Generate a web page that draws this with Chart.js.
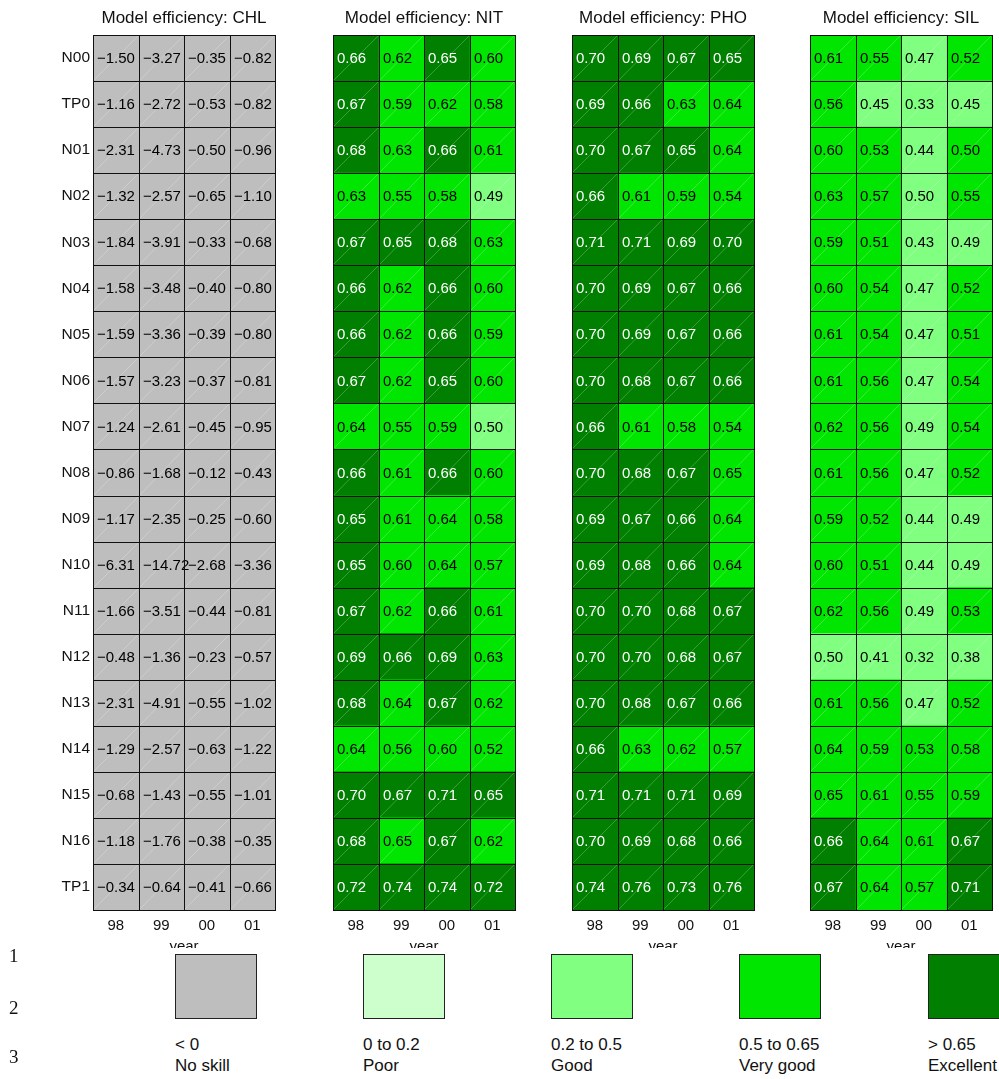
<!DOCTYPE html>
<html>
<head>
<meta charset="utf-8">
<script src="https://cdn.jsdelivr.net/npm/chart.js@4"></script>
<style>
  body { margin: 0; background: #fff; }
  #wrap { position: relative; width: 999px; height: 1079px; overflow: hidden; font-family: "Liberation Sans", Arial, sans-serif; }
  canvas { position: absolute; top: 0; }
  #legend { position: absolute; left: 0; top: 948px; width: 999px; height: 131px; background: #fff; }
  .sw { position: absolute; top: 6px; width: 80px; height: 63px; border: 1px solid #222; }
  .lab { position: absolute; top: 86px; font-size: 17px; line-height: 21px; color: #111; white-space: nowrap; }
  .num { position: absolute; left: 9px; font-family: "Liberation Serif", "DejaVu Serif", serif; font-size: 19px; color: #111; }
</style>
</head>
<body>
<div id="wrap">
  <canvas id="chl" width="302" height="960"></canvas>
  <canvas id="nit" width="302" height="960"></canvas>
  <canvas id="pho" width="302" height="960"></canvas>
  <canvas id="sil" width="302" height="960"></canvas>
  <div id="legend"></div>
</div>
<script>
// rows = stations, columns = years
var stations = ['N00', 'TP0', 'N01', 'N02', 'N03', 'N04', 'N05', 'N06', 'N07', 'N08',
                'N09', 'N10', 'N11', 'N12', 'N13', 'N14', 'N15', 'N16', 'TP1'];
var years = ['98', '99', '00', '01'];

var chlValues = [
    [-1.50, -3.27, -0.35, -0.82],
    [-1.16, -2.72, -0.53, -0.82],
    [-2.31, -4.73, -0.50, -0.96],
    [-1.32, -2.57, -0.65, -1.10],
    [-1.84, -3.91, -0.33, -0.68],
    [-1.58, -3.48, -0.40, -0.80],
    [-1.59, -3.36, -0.39, -0.80],
    [-1.57, -3.23, -0.37, -0.81],
    [-1.24, -2.61, -0.45, -0.95],
    [-0.86, -1.68, -0.12, -0.43],
    [-1.17, -2.35, -0.25, -0.60],
    [-6.31, -14.72, -2.68, -3.36],
    [-1.66, -3.51, -0.44, -0.81],
    [-0.48, -1.36, -0.23, -0.57],
    [-2.31, -4.91, -0.55, -1.02],
    [-1.29, -2.57, -0.63, -1.22],
    [-0.68, -1.43, -0.55, -1.01],
    [-1.18, -1.76, -0.38, -0.35],
    [-0.34, -0.64, -0.41, -0.66]
];
var nitValues = [
    [0.66, 0.62, 0.652, 0.60],
    [0.67, 0.59, 0.62, 0.58],
    [0.68, 0.63, 0.66, 0.61],
    [0.63, 0.55, 0.58, 0.49],
    [0.67, 0.652, 0.68, 0.63],
    [0.66, 0.62, 0.66, 0.60],
    [0.66, 0.62, 0.66, 0.59],
    [0.67, 0.62, 0.652, 0.60],
    [0.64, 0.55, 0.59, 0.497],
    [0.66, 0.61, 0.66, 0.60],
    [0.652, 0.61, 0.64, 0.58],
    [0.652, 0.60, 0.64, 0.57],
    [0.67, 0.62, 0.66, 0.61],
    [0.69, 0.66, 0.69, 0.63],
    [0.68, 0.64, 0.67, 0.62],
    [0.64, 0.56, 0.60, 0.52],
    [0.70, 0.67, 0.71, 0.652],
    [0.68, 0.648, 0.67, 0.62],
    [0.72, 0.74, 0.74, 0.72]
];
var phoValues = [
    [0.70, 0.69, 0.67, 0.652],
    [0.69, 0.66, 0.63, 0.64],
    [0.70, 0.67, 0.652, 0.64],
    [0.66, 0.61, 0.59, 0.54],
    [0.71, 0.71, 0.69, 0.70],
    [0.70, 0.69, 0.67, 0.66],
    [0.70, 0.69, 0.67, 0.66],
    [0.70, 0.68, 0.67, 0.66],
    [0.66, 0.61, 0.58, 0.54],
    [0.70, 0.68, 0.67, 0.648],
    [0.69, 0.67, 0.66, 0.64],
    [0.69, 0.68, 0.66, 0.64],
    [0.70, 0.70, 0.68, 0.67],
    [0.70, 0.70, 0.68, 0.67],
    [0.70, 0.68, 0.67, 0.66],
    [0.66, 0.63, 0.62, 0.57],
    [0.71, 0.71, 0.71, 0.69],
    [0.70, 0.69, 0.68, 0.66],
    [0.74, 0.76, 0.73, 0.76]
];
var silValues = [
    [0.61, 0.55, 0.47, 0.52],
    [0.56, 0.45, 0.33, 0.45],
    [0.60, 0.53, 0.44, 0.503],
    [0.63, 0.57, 0.497, 0.55],
    [0.59, 0.51, 0.43, 0.49],
    [0.60, 0.54, 0.47, 0.52],
    [0.61, 0.54, 0.47, 0.51],
    [0.61, 0.56, 0.47, 0.54],
    [0.62, 0.56, 0.49, 0.54],
    [0.61, 0.56, 0.47, 0.52],
    [0.59, 0.52, 0.44, 0.49],
    [0.60, 0.51, 0.44, 0.49],
    [0.62, 0.56, 0.49, 0.53],
    [0.497, 0.41, 0.32, 0.38],
    [0.61, 0.56, 0.47, 0.52],
    [0.64, 0.59, 0.53, 0.58],
    [0.648, 0.61, 0.55, 0.59],
    [0.66, 0.64, 0.61, 0.67],
    [0.67, 0.64, 0.57, 0.71]
];

// skill classes
var classBreaks = [0, 0.2, 0.5, 0.65];
var classColors = ['#bebebe', '#ccffcc', '#80ff80', '#00e600', '#007f00'];
var classRanges = ['< 0', '0 to 0.2', '0.2 to 0.5', '0.5 to 0.65', '> 0.65'];
var classNames = ['No skill', 'Poor', 'Good', 'Very good', 'Excellent'];

var panels = [
    { id: 'chl', name: 'CHL', values: chlValues, left: 93 },
    { id: 'nit', name: 'NIT', values: nitValues, left: 333 },
    { id: 'pho', name: 'PHO', values: phoValues, left: 572 },
    { id: 'sil', name: 'SIL', values: silValues, left: 810 }
];

var FONT = '"Liberation Sans", Arial, sans-serif';
var SIDE = 60; // room for row labels, mirrored on the right so titles centre on the grid

function classOf(v) {
    return classBreaks.filter(function (b) { return v >= b; }).length;
}

function fmt(v) {
    return (v < 0 ? '\u2212' : '') + Math.abs(v).toFixed(2);
}

// cell outlines, diagonals and numbers
var cellPlugin = {
    id: 'cells',
    afterDatasetsDraw: function (chart) {
        var ctx = chart.ctx;
        var vals = chart.options.plugins.cells.values;
        ctx.save();
        chart.data.datasets.forEach(function (ds, j) {
            chart.getDatasetMeta(j).data.forEach(function (el, i) {
                var p = el.getProps(['x', 'y', 'base', 'height'], true);
                var l = Math.round(Math.min(p.x, p.base)), r = Math.round(Math.max(p.x, p.base));
                var t = Math.round(p.y - p.height / 2), b = Math.round(p.y + p.height / 2);
                ctx.strokeStyle = 'rgba(255,255,255,0.4)';
                ctx.lineWidth = 0.6;
                ctx.beginPath();
                ctx.moveTo(l, b);
                ctx.lineTo(r, t);
                ctx.stroke();
                ctx.strokeStyle = '#111';
                ctx.lineWidth = 1;
                ctx.strokeRect(l + 0.5, t + 0.5, r - l, b - t);
                var v = vals[i][j];
                ctx.fillStyle = classOf(v) === 4 ? '#fff' : '#000';
                ctx.font = '15px ' + FONT;
                ctx.textAlign = 'left';
                ctx.textBaseline = 'middle';
                ctx.fillText(fmt(v), l + 4, p.y + 1);
            });
        });
        ctx.restore();
    }
};

panels.forEach(function (pn, k) {
    var cv = document.getElementById(pn.id);
    cv.style.left = (pn.left - SIDE) + 'px';
    new Chart(cv.getContext('2d'), {
        type: 'bar',
        data: {
            labels: stations,
            datasets: years.map(function (yr, j) {
                return {
                    label: yr,
                    data: stations.map(function () { return [j, j + 1]; }),
                    backgroundColor: function (c) { return classColors[classOf(pn.values[c.dataIndex][j])]; },
                    borderWidth: 0,
                    barPercentage: 1,
                    categoryPercentage: 1
                };
            })
        },
        options: {
            indexAxis: 'y',
            responsive: false,
            animation: false,
            events: [],
            layout: { padding: 0 },
            datasets: { bar: { grouped: false } },
            plugins: {
                legend: { display: false },
                tooltip: { enabled: false },
                title: {
                    display: true,
                    text: 'Model efficiency: ' + pn.name,
                    color: '#111',
                    font: { family: FONT, size: 17, weight: 'normal' },
                    padding: { top: 7.8, bottom: 6.8 }
                },
                cells: { values: pn.values }
            },
            scales: {
                x: {
                    type: 'linear',
                    min: 0,
                    max: years.length,
                    grid: { display: false, drawTicks: false },
                    border: { display: false },
                    afterBuildTicks: function (s) {
                        s.ticks = years.map(function (yr, j) { return { value: j + 0.5 }; });
                    },
                    afterFit: function (s) { s.height = 50; },
                    ticks: {
                        autoSkip: false,
                        maxRotation: 0,
                        padding: 7,
                        color: '#111',
                        font: { family: FONT, size: 15 },
                        callback: function (v, i) { return years[i]; }
                    },
                    title: {
                        display: true,
                        text: 'year',
                        color: '#111',
                        font: { family: FONT, size: 15 },
                        padding: { top: 0, bottom: 4 }
                    }
                },
                y: {
                    grid: { display: false, drawTicks: false },
                    border: { display: false },
                    afterFit: function (s) { s.width = SIDE; },
                    ticks: {
                        display: k === 0,
                        autoSkip: false,
                        padding: 3,
                        color: '#111',
                        font: { family: FONT, size: 15.5 }
                    }
                },
                // empty axis on the right, balances the row label column
                yRight: {
                    type: 'category',
                    position: 'right',
                    grid: { display: false, drawTicks: false },
                    border: { display: false },
                    ticks: { display: false },
                    afterFit: function (s) { s.width = SIDE; }
                }
            }
        },
        plugins: [cellPlugin]
    });
});

// legend swatches
var legend = document.getElementById('legend');
var swLeft = [175, 363, 551, 739, 928];
classColors.forEach(function (col, i) {
    var sw = document.createElement('div');
    sw.className = 'sw';
    sw.style.left = swLeft[i] + 'px';
    sw.style.background = col;
    legend.appendChild(sw);
    var lb = document.createElement('div');
    lb.className = 'lab';
    lb.style.left = swLeft[i] + 'px';
    lb.innerHTML = classRanges[i].replace('<', '&lt;') + '<br>' + classNames[i];
    legend.appendChild(lb);
});
[['1', -3], ['2', 49], ['3', 98]].forEach(function (n) {
    var d = document.createElement('div');
    d.className = 'num';
    d.style.top = n[1] + 'px';
    d.textContent = n[0];
    legend.appendChild(d);
});
</script>
</body>
</html>
